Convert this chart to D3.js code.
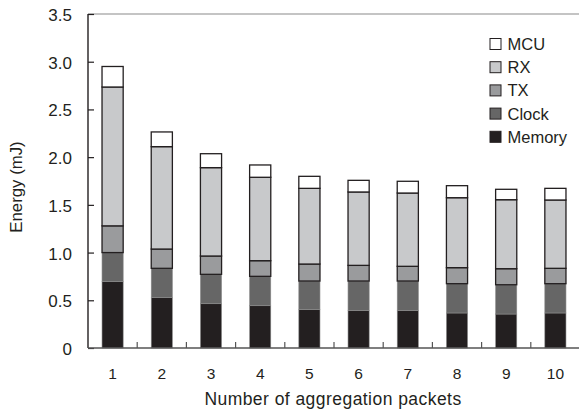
<!DOCTYPE html>
<html>
<head>
<meta charset="utf-8">
<script src="https://cdn.jsdelivr.net/npm/d3@7"></script>
<style>
  body { margin: 0; background: #fff; }
  text { font-family: "Liberation Sans", Arial, sans-serif; fill: #231f20; }
</style>
</head>
<body>
<script>
(function(){

  //chart data
  var packets = ["1", "2", "3", "4", "5", "6", "7", "8", "9", "10"]; //categories
  var memory = [0.695, 0.527, 0.464, 0.443, 0.405, 0.391, 0.391, 0.367, 0.356, 0.367];
  var clock  = [0.305, 0.308, 0.308, 0.308, 0.297, 0.311, 0.311, 0.307, 0.307, 0.307];
  var tx     = [0.280, 0.202, 0.192, 0.164, 0.178, 0.164, 0.154, 0.168, 0.168, 0.161];
  var rx     = [1.455, 1.073, 0.926, 0.874, 0.793, 0.769, 0.768, 0.733, 0.723, 0.716];
  var mcu    = [0.215, 0.154, 0.146, 0.129, 0.126, 0.122, 0.123, 0.126, 0.109, 0.122];
  var seriesNames = ["Memory", "Clock", "TX", "RX", "MCU"]; //bottom to top
  var yTicks = [0, 0.5, 1.0, 1.5, 2.0, 2.5, 3.0, 3.5];

  var colors = {Memory: "#231f20", Clock: "#666666", TX: "#9a9b9d", RX: "#c8c9cb", MCU: "#ffffff"};
  var outlined = {Memory: false, Clock: false, TX: true, RX: true, MCU: true};

  var width = 579, height = 415;
  var margin = {top: 14, right: -1, bottom: 67, left: 88};

  var svg = d3.select("body").append("svg")
    .attr("width", width)
    .attr("height", height);

  //build table for the stack layout
  var table = packets.map(function(p, i){
    return {packet: p, Memory: memory[i], Clock: clock[i], TX: tx[i], RX: rx[i], MCU: mcu[i]};
  });
  var stacked = d3.stack().keys(seriesNames)(table);

  var x = d3.scaleBand()
    .domain(packets)
    .range([margin.left, width - margin.right])
    .paddingInner(0.57)
    .paddingOuter(0.285);

  var y = d3.scaleLinear()
    .domain([0, 3.5])
    .range([height - margin.bottom, margin.top]);

  var x0 = margin.left, x1 = width - margin.right;
  var y0 = y(0), yTop = y(3.5);

  //frame top line
  svg.append("line")
    .attr("x1", x0).attr("x2", x1)
    .attr("y1", yTop).attr("y2", yTop)
    .attr("stroke", "#8a8a8a").attr("stroke-width", 1.2);

  //bars
  var layers = svg.selectAll(".layer")
    .data(stacked)
    .enter().append("g")
    .attr("class", "layer");

  layers.selectAll("rect")
    .data(function(d){ return d.map(function(v){ return {key: d.key, v: v}; }); })
    .enter().append("rect")
    .attr("x", function(d){ return x(d.v.data.packet); })
    .attr("width", x.bandwidth())
    .attr("y", function(d){ return y(d.v[1]); })
    .attr("height", function(d){ return y(d.v[0]) - y(d.v[1]); })
    .attr("fill", function(d){ return colors[d.key]; })
    .attr("stroke", function(d){ return outlined[d.key] ? "#231f20" : "#8c8c8c"; })
    .attr("stroke-width", function(d){ return outlined[d.key] ? 1.3 : 0.6; });

  //y axis, ticks inside
  var yAxis = svg.append("g")
    .attr("transform", "translate(" + x0 + ",0)")
    .call(d3.axisRight(y).tickValues(yTicks).tickSize(6).tickFormat(function(d){ return d === 0 ? "0" : d3.format(".1f")(d); }));
  yAxis.select(".domain").remove();
  yAxis.selectAll(".tick line").attr("stroke", "#231f20").attr("stroke-width", 1.2);
  yAxis.selectAll(".tick text")
    .attr("x", -16)
    .attr("dy", "0.38em")
    .attr("text-anchor", "end")
    .attr("font-size", 17)
    .attr("font-family", null);
  svg.append("line")
    .attr("x1", x0).attr("x2", x0)
    .attr("y1", yTop).attr("y2", y0)
    .attr("stroke", "#231f20").attr("stroke-width", 1.4);

  //x axis
  svg.append("line")
    .attr("x1", x0).attr("x2", x1)
    .attr("y1", y0).attr("y2", y0)
    .attr("stroke", "#555").attr("stroke-width", 1.4);

  var step = x.step();
  svg.selectAll(".xtick")
    .data(packets.slice(0, packets.length - 1))
    .enter().append("line")
    .attr("class", "xtick")
    .attr("x1", function(d){ return x(d) + x.bandwidth() / 2 + step / 2; })
    .attr("x2", function(d){ return x(d) + x.bandwidth() / 2 + step / 2; })
    .attr("y1", y0).attr("y2", y0 - 6)
    .attr("stroke", "#555").attr("stroke-width", 1.2);

  svg.selectAll(".xlabel")
    .data(packets)
    .enter().append("text")
    .attr("class", "xlabel")
    .attr("x", function(d){ return x(d) + x.bandwidth() / 2; })
    .attr("y", 379)
    .attr("text-anchor", "middle")
    .attr("font-size", 15.5)
    .text(function(d){ return d; });

  //axis titles
  svg.append("text")
    .attr("x", 333)
    .attr("y", 405)
    .attr("text-anchor", "middle")
    .attr("font-size", 17.5)
    .attr("letter-spacing", 0.45)
    .text("Number of aggregation packets");

  svg.append("text")
    .attr("transform", "translate(22," + 187 + ") rotate(-90)")
    .attr("text-anchor", "middle")
    .attr("font-size", 16.8)
    .text("Energy (mJ)");

  //legend, top to bottom
  var legendOrder = seriesNames.slice().reverse();
  var legend = svg.selectAll(".legend")
    .data(legendOrder)
    .enter().append("g")
    .attr("class", "legend")
    .attr("transform", function(d, i){ return "translate(490," + (44 + i * 23.2) + ")"; });

  legend.append("rect")
    .attr("x", 0).attr("y", -5.5)
    .attr("width", 11).attr("height", 11)
    .attr("fill", function(d){ return colors[d]; })
    .attr("stroke", "#231f20").attr("stroke-width", 1);

  legend.append("text")
    .attr("x", 17.5)
    .attr("y", 6)
    .attr("font-size", 16.5)
    .text(function(d){ return d; });

})();
</script>
</body>
</html>
